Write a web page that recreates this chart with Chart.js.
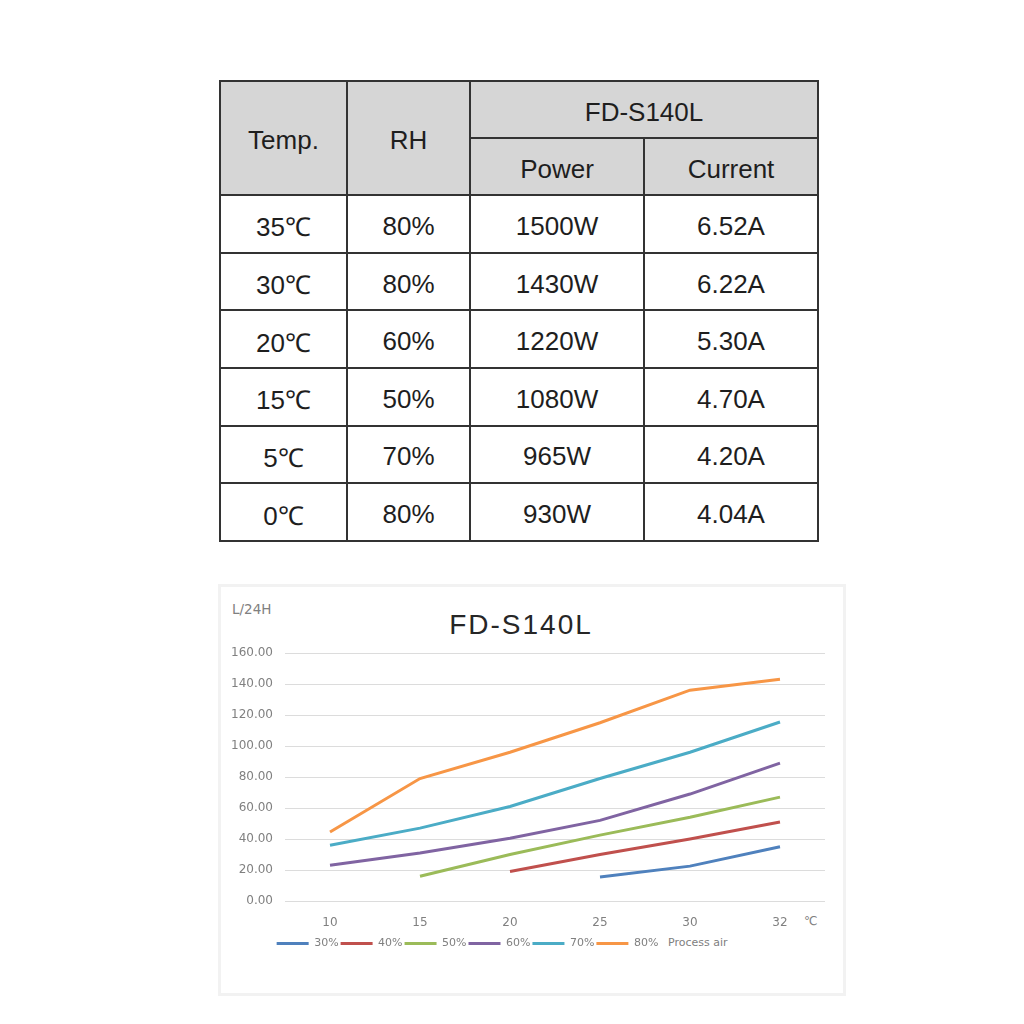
<!DOCTYPE html>
<html>
<head>
<meta charset="utf-8">
<script src="https://cdn.jsdelivr.net/npm/chart.js@4"></script>
<style>
    html, body { margin: 0; padding: 0; background: #fff; }
    body { width: 1024px; height: 1024px; position: relative; overflow: hidden; font-family: 'Liberation Sans', Arial, sans-serif; }
    .spec {
        position: absolute; left: 219px; top: 80px; width: 598px; height: 462px;
        border-collapse: collapse; color: #1e1e1e; font-size: 26px; table-layout: fixed;
    }
    .spec td, .spec th { border: 2px solid #333; text-align: center; font-weight: normal; padding: 5px 0 0 0; }
    .spec th { background: #d6d6d6; }
    .chart-box {
        position: absolute; left: 218px; top: 584px; width: 622px; height: 406px;
        border: 3px solid #f2f2f2;
    }
    .chart-wrap { position: absolute; left: 110px; top: 583px; width: 733px; height: 410px; }
    .chart-title { position: absolute; left: 371px; top: 609px; width: 300px; text-align: center; font-size: 28px; letter-spacing: 2px; color: #262626; }
    .unit { position: absolute; font-family: 'DejaVu Sans', sans-serif; font-size: 12px; color: #808080; }
</style>
</head>
<body>
<table class="spec">
    <colgroup><col style="width:127px"><col style="width:123px"><col style="width:174px"><col style="width:174px"></colgroup>
    <tr style="height:57px"><th rowspan="2">Temp.</th><th rowspan="2">RH</th><th colspan="2">FD-S140L</th></tr>
    <tr style="height:57px"><th>Power</th><th>Current</th></tr>
    <tbody id="rows"></tbody>
</table>

<div class="chart-box"></div>
<div class="chart-title">FD-S140L</div>
<div class="unit" style="left:232px; top:601px; font-size:13.5px;">L/24H</div>
<div class="unit" style="left:804px; top:914px;">℃</div>
<div class="unit" style="left:668px; top:936px; font-size:11px;">Process air</div>
<div class="chart-wrap"><canvas id="capacityChart"></canvas></div>

<script>
// Table data
const temps = ['35℃', '30℃', '20℃', '15℃', '5℃', '0℃'];
const rhs = ['80%', '80%', '60%', '50%', '70%', '80%'];
const powers = ['1500W', '1430W', '1220W', '1080W', '965W', '930W'];
const currents = ['6.52A', '6.22A', '5.30A', '4.70A', '4.20A', '4.04A'];

// Chart data (L/24H by process air temperature)
const airTemps = ['10', '15', '20', '25', '30', '32'];
const rh30 = [null, null, null, 15.5, 22.5, 35];
const rh40 = [null, null, 19, 30, 40, 51];
const rh50 = [null, 16, 30, 42.5, 54, 67];
const rh60 = [23, 31, 40.5, 52, 69, 89];
const rh70 = [36, 47, 61, 79, 96, 115.5];
const rh80 = [44.5, 79, 96, 115, 136, 143];
const seriesNames = ['30%', '40%', '50%', '60%', '70%', '80%'];
const yTicks = [0, 20, 40, 60, 80, 100, 120, 140, 160];

// Fill table rows
const tbody = document.getElementById('rows');
temps.forEach((t, i) => {
    const tr = document.createElement('tr');
    tr.style.height = '57.6px';
    [t, rhs[i], powers[i], currents[i]].forEach(v => {
        const td = document.createElement('td');
        td.textContent = v;
        tr.appendChild(td);
    });
    tbody.appendChild(tr);
});

const colors = ['#4f81bd', '#c0504d', '#9bbb59', '#8064a2', '#4bacc6', '#f79646'];
const values = [rh30, rh40, rh50, rh60, rh70, rh80];

const datasets = values.map((v, i) => ({
    label: seriesNames[i],
    data: v,
    borderColor: colors[i],
    backgroundColor: colors[i],
    borderWidth: 3,
    pointRadius: 0,
    tension: 0,
    spanGaps: false
}));

const tickFont = { family: "'DejaVu Sans', sans-serif", size: 12 };

new Chart(document.getElementById('capacityChart'), {
    type: 'line',
    data: { labels: airTemps, datasets: datasets },
    options: {
        responsive: true,
        maintainAspectRatio: false,
        animation: false,
        layout: { padding: { top: 70, right: 18, bottom: 34, left: 0 } },
        scales: {
            x: {
                offset: true,
                grid: { display: false, drawTicks: false },
                border: { display: false },
                ticks: { color: '#808080', font: tickFont, padding: 15 },
                afterFit: axis => { axis.height = 35; }
            },
            y: {
                min: 0,
                max: 160,
                afterBuildTicks: axis => { axis.ticks = yTicks.map(v => ({ value: v })); },
                grid: { color: '#dcdcdc', lineWidth: 1, drawTicks: false },
                border: { display: false },
                ticks: {
                    color: '#808080', font: tickFont, padding: 12,
                    callback: v => Number(v).toFixed(2)
                },
                afterFit: axis => { axis.width = 175; }
            }
        },
        plugins: {
            title: { display: false },
            tooltip: { enabled: false },
            legend: {
                position: 'bottom',
                labels: {
                    color: '#808080',
                    font: { family: "'DejaVu Sans', sans-serif", size: 11 },
                    boxWidth: 32,
                    boxHeight: 3,
                    padding: 2,
                    generateLabels: chart => chart.data.datasets.map((ds, i) => ({
                        text: ds.label,
                        fillStyle: ds.borderColor,
                        strokeStyle: ds.borderColor,
                        fontColor: '#808080',
                        lineWidth: 0,
                        datasetIndex: i
                    }))
                }
            }
        }
    }
});
</script>
</body>
</html>
